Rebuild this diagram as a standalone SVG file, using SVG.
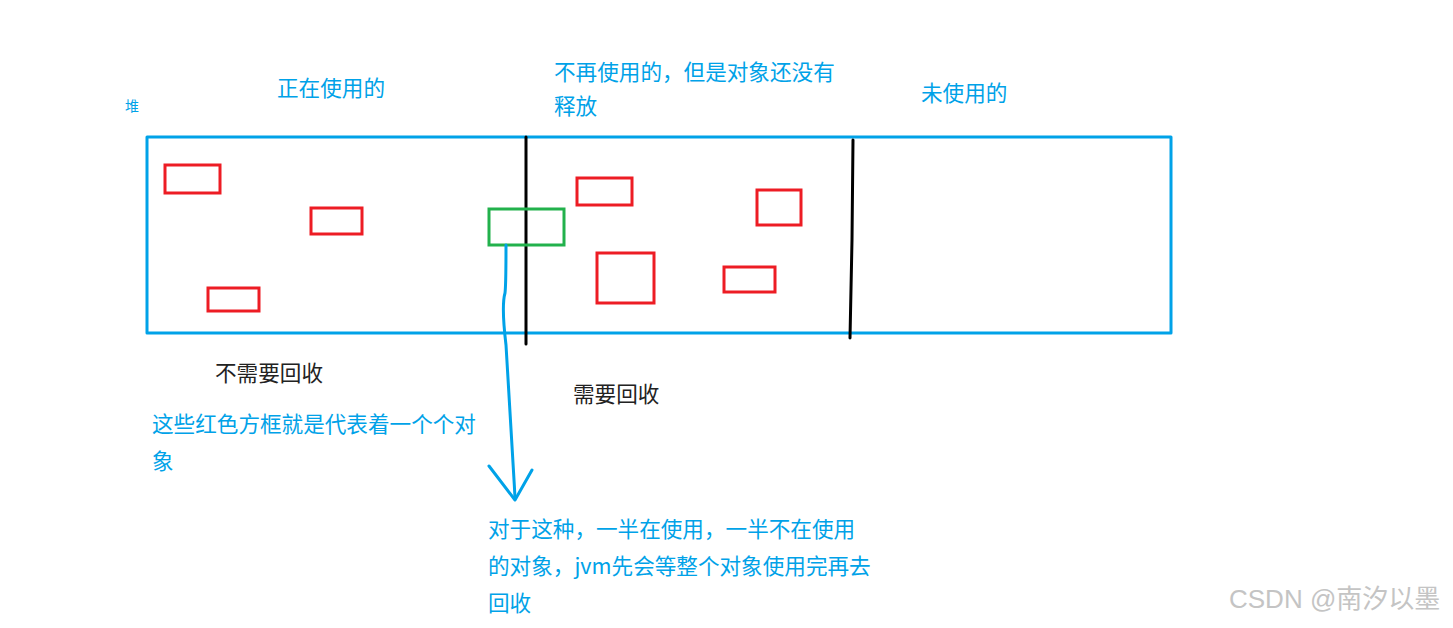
<svg xmlns="http://www.w3.org/2000/svg" width="1453" height="628" viewBox="0 0 1453 628">
<style>
.t{font-family:"Microsoft YaHei","Noto Sans CJK SC",sans-serif;font-size:21.6px;fill:#00A2E8}
.k{fill:#222}
.obj{fill:none;stroke:#ED1C24;stroke-width:3}
.div{stroke:#000;stroke-width:3;stroke-linecap:round;fill:none}
.blue{fill:none;stroke:#00A2E8;stroke-width:3;stroke-linecap:round;stroke-linejoin:round}
</style>
<rect width="1453" height="628" fill="#fff"/>
<g id="heap">
<rect x="147" y="137" width="1024" height="196" class="blue"/>
<text x="125" y="111" class="t" style="font-size:14px">堆</text>
</g>
<g id="dividers">
<path d="M526,137 L526,344" class="div"/>
<path d="M853,140 L852,240 L850,338" class="div"/>
</g>
<g id="objects">
<rect x="165" y="165" width="55" height="28" class="obj"/>
<rect x="311" y="208" width="51" height="26" class="obj"/>
<rect x="208" y="288" width="51" height="23" class="obj"/>
<rect x="577" y="178" width="55" height="27" class="obj"/>
<rect x="757" y="190" width="44" height="35" class="obj"/>
<rect x="597" y="253" width="57" height="50" class="obj"/>
<rect x="724" y="267" width="51" height="25" class="obj"/>
</g>
<g id="half-object">
<rect x="489" y="209" width="75" height="36" fill="none" stroke="#22B14C" stroke-width="3"/>
</g>
<g id="connectors">
<path d="M506,245 C506,265 506,285 505,293 C503,300 503,320 506,345 C508,380 512,440 515,498" class="blue"/>
<path d="M489,466 L515,500 L532,470" class="blue"/>
</g>
<g id="labels">
<text x="277" y="96" class="t">正在使用的</text>
<text x="554" y="80" class="t">不再使用的，但是对象还没有</text>
<text x="554" y="114" class="t">释放</text>
<text x="921" y="101" class="t">未使用的</text>
<text x="215" y="381" class="t k">不需要回收</text>
<text x="573" y="402" class="t k">需要回收</text>
<text x="152" y="432" class="t">这些红色方框就是代表着一个个对</text>
<text x="152" y="469" class="t">象</text>
<text x="488" y="537" class="t">对于这种，一半在使用，一半不在使用</text>
<text x="488" y="574" class="t">的对象，jvm先会等整个对象使用完再去</text>
<text x="488" y="611" class="t">回收</text>
</g>
<text x="1229" y="608" style="font-family:'Liberation Sans','Noto Sans CJK SC',sans-serif;font-size:26px;fill:#c4c4c4">CSDN @南汐以墨</text>
</svg>
